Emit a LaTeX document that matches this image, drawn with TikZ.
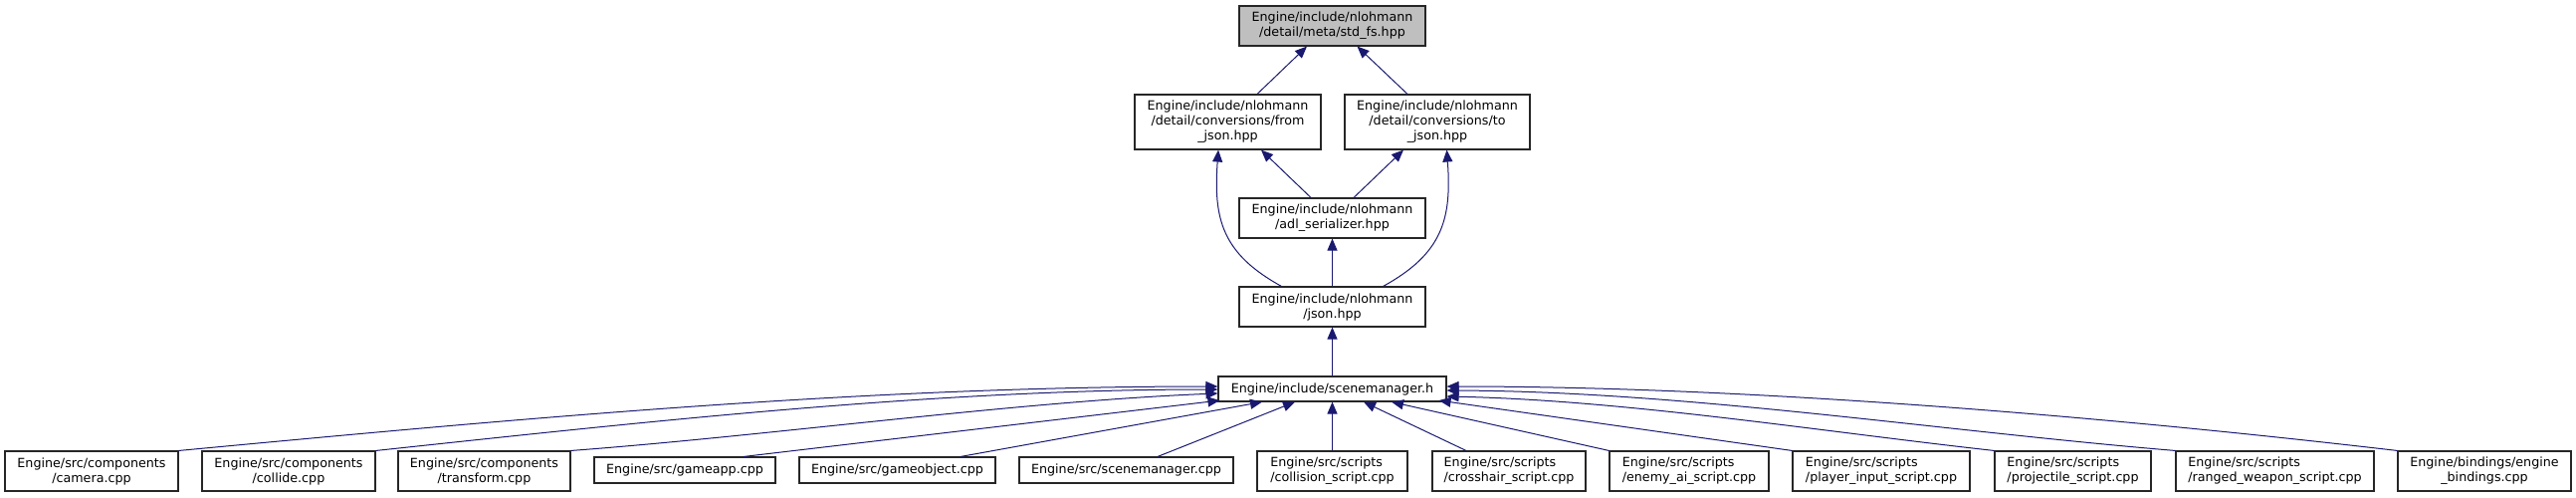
\documentclass[tikz,border=0pt]{standalone}
\usepackage{fontspec}
\setmainfont{DejaVu Sans}
\usetikzlibrary{calc,arrows.meta}
\definecolor{edgeblue}{RGB}{25,25,112}
\definecolor{rootgrey}{RGB}{191,191,191}
\tikzset{
  file/.style={draw=black!85,line width=1.1pt,fill=white,inner sep=0pt,align=center},
  root/.style={file,fill=rootgrey},
  script/.style={file,align=left},
  sz/.style 2 args={minimum width=#1pt,minimum height=#2pt},
  dep/.style={draw=edgeblue,line width=1pt,-{Triangle[length=12pt,width=10pt]}}
}

\begin{document}
\begin{tikzpicture}[x=1pt,y=-1pt,every node/.style={font=\fontsize{12.7}{15}\selectfont}]
  \useasboundingbox (0,0) rectangle (2588,499);

  \node[root,sz={187}{40}] (stdfs) at (1338.5,26) {Engine/include/nlohmann\\/detail/meta/std\_fs.hpp};
  \node[file,sz={187}{55}] (fromjson) at (1233.5,122.5) {Engine/include/nlohmann\\/detail/conversions/from\\\_json.hpp};
  \node[file,sz={186}{55}] (tojson) at (1444,122.5) {Engine/include/nlohmann\\/detail/conversions/to\hspace*{24.6pt}\\\_json.hpp};
  \node[file,sz={187}{40}] (adl) at (1338.5,219) {Engine/include/nlohmann\\/adl\_serializer.hpp};
  \node[file,sz={187}{40}] (json) at (1338.5,308) {Engine/include/nlohmann\\/json.hpp};
  \node[file,sz={229}{25}] (smh) at (1338.5,390.5) {Engine/include/scenemanager.h};

  \node[file,sz={174}{40}] (camera) at (92,473) {Engine/src/components\\/camera.cpp};
  \node[file,sz={174}{40}] (collide) at (290,473) {Engine/src/components\\/collide.cpp};
  \node[file,sz={173}{40}] (transform) at (486.5,473) {Engine/src/components\\/transform.cpp};
  \node[file,sz={182}{26}] (gameapp) at (688,472) {Engine/src/gameapp.cpp};
  \node[file,sz={197}{26}] (gameobj) at (901.5,472) {Engine/src/gameobject.cpp};
  \node[file,sz={215}{26}] (smcpp) at (1131.5,472) {Engine/src/scenemanager.cpp};
  \node[script,sz={151}{40}] (collision) at (1338.5,473) {Engine/src/scripts\\/collision\_script.cpp};
  \node[script,sz={154}{40}] (crosshair) at (1516,473) {Engine/src/scripts\\/crosshair\_script.cpp};
  \node[script,sz={160}{40}] (enemyai) at (1697,473) {Engine/src/scripts\\/enemy\_ai\_script.cpp};
  \node[script,sz={178}{40}] (playerinput) at (1890,473) {Engine/src/scripts\\/player\_input\_script.cpp};
  \node[script,sz={157}{40}] (projectile) at (2082.5,473) {Engine/src/scripts\\/projectile\_script.cpp};
  \node[script,sz={199}{40}] (ranged) at (2285.5,473) {Engine/src/scripts\\/ranged\_weapon\_script.cpp};
  \node[file,sz={174}{40}] (bindings) at (2496,473) {Engine/bindings/engine\\\_bindings.cpp};

  \draw[dep] ($(fromjson.north)+(29.5,0)$) -- ($(stdfs.south)+(-25.5,0)$);
  \draw[dep] ($(tojson.north)+(-30,0)$) -- ($(stdfs.south)+(25,0)$);
  \draw[dep] ($(adl.north)+(-21.5,0)$) -- ($(fromjson.south)+(33.5,0)$);
  \draw[dep] ($(adl.north)+(21.5,0)$) -- ($(tojson.south)+(-34,0)$);
  \draw[dep] ($(json.north west)+(43,0)$) .. controls +(-60,-33) and +(-5,69) .. ($(fromjson.south)+(-9.5,0)$);
  \draw[dep] ($(json.north east)+(-43,0)$) .. controls +(60,-33) and +(5,69) .. ($(tojson.south)+(9.5,0)$);
  \draw[dep] (json) -- (adl);
  \draw[dep] (smh) -- (json);

  \draw[dep] (camera.north east) .. controls +(350,-33) and +(-350,0) .. ($(smh.west)+(0,-2.5)$);
  \draw[dep] (collide.north east) .. controls +(280,-30) and +(-280,0) .. ($(smh.west)+(0,0.5)$);
  \draw[dep] (transform.north east) .. controls +(200,-15) and +(-200,8) .. ($(smh.west)+(0,4.5)$);
  \draw[dep] ($(gameapp.north)+(59,0)$) -- ($(smh.south west)+(2,-1.5)$);
  \draw[dep] ($(gameobj.north)+(63.5,0)$) -- ($(smh.south)+(-70.5,0)$);
  \draw[dep] ($(smcpp.north)+(31.5,0)$) -- ($(smh.south)+(-37.5,0)$);
  \draw[dep] (collision) -- (smh);
  \draw[dep] ($(crosshair.north)+(-43,0)$) -- ($(smh.south)+(31.5,0)$);
  \draw[dep] (enemyai.north west) -- ($(smh.south)+(59.5,0)$);
  \draw[dep] (playerinput.north west) -- ($(smh.south east)+(-8,-1.5)$);
  \draw[dep] (projectile.north west) .. controls +(-180,-20) and +(180,4) .. ($(smh.east)+(0,7.5)$);
  \draw[dep] (ranged.north west) .. controls +(-240,-20) and +(240,1) .. ($(smh.east)+(0,1.5)$);
  \draw[dep] (bindings.north west) .. controls +(-300,-35) and +(300,0) .. ($(smh.east)+(0,-2.5)$);
\end{tikzpicture}
\end{document}
